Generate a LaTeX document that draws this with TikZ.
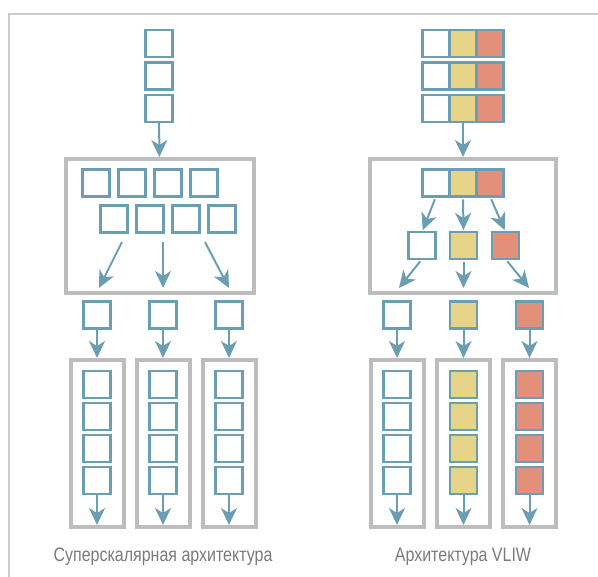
\documentclass[tikz,border=0pt]{standalone}
\usepackage{fontspec}
\setmainfont{Liberation Sans}
\newfontfamily\uzkij[FakeStretch=0.82]{Liberation Sans}
\usetikzlibrary{arrows.meta,positioning}
\definecolor{sinij}{HTML}{6B9EB3}
\definecolor{seryj}{HTML}{BDBDBD}
\definecolor{svetlyj}{HTML}{CCCCCC}
\definecolor{zhel}{HTML}{E7D489}
\definecolor{kras}{HTML}{E2907A}
\definecolor{tekst}{HTML}{7A7A7A}

\newcommand{\stolbec}[3]{%
  \node[kletka, fill=#3] (#1) at (#2,315) {};
  \node[ramka, minimum width=53pt, minimum height=167pt] (#1r) at (#2,443.5) {};
  \node[kletka, fill=#3] (#1a) at (#2,384.5) {};
  \node[kletka, fill=#3, below=5pt of #1a] (#1b) {};
  \node[kletka, fill=#3, below=5pt of #1b] (#1c) {};
  \node[kletka, fill=#3, below=5pt of #1c] (#1d) {};
  \draw[strelka] (#1) -- (#1r);
  \draw[strelka, shorten >=4pt] (#1d) -- (#1r.south);}

\begin{document}
\begin{tikzpicture}[x=1pt, y=-1pt,
  kletka/.style={draw=sinij, line width=2.6pt, minimum size=27pt, inner sep=0pt, outer sep=0pt, fill=white},
  ramka/.style={draw=seryj, line width=4pt, inner sep=0pt},
  strelka/.style={draw=sinij, line width=2pt, -{Stealth[length=17pt, width=16pt, inset=5pt]}},
  podpis/.style={text=tekst, font=\uzkij\fontsize{19.5}{22}\selectfont, anchor=base}]
  \useasboundingbox (0,0) rectangle (598,577);
  \draw[svetlyj, line width=1.5pt] (598,14) -- (9,14) -- (9,577);

  \node[kletka] (p1) at (159,43.5) {};
  \node[kletka, below=5.5pt of p1] (p2) {};
  \node[kletka, below=5.5pt of p2] (p3) {};
  \node[ramka, minimum width=188pt, minimum height=134pt] (blok) at (160,226) {};
  \draw[strelka] (p3) -- (blok);
  \foreach \i/\x in {1/96,2/132,3/168,4/204}
    \node[kletka] (r\i) at (\x,183) {};
  \foreach \i/\x in {1/114,2/150,3/186,4/222}
    \node[kletka] (s\i) at (\x,219) {};
  \coordinate (n1) at (122,242);
  \coordinate (n2) at (163,242);
  \coordinate (n3) at (205,242);
  \coordinate (k1) at (99,288);
  \coordinate (k2) at (163,288);
  \coordinate (k3) at (229,288);
  \foreach \i in {1,2,3}
    \draw[strelka] (n\i) -- (k\i);
  \stolbec{la}{97}{white}
  \stolbec{lb}{163}{white}
  \stolbec{lc}{229}{white}
  \node[podpis] (t1) at (163,562) {Суперскалярная архитектура};

  \foreach \j/\y in {1/43.5,2/76,3/108.5} {
    \node[kletka] (q\j a) at (436,\y) {};
    \node[kletka, fill=zhel] (q\j b) at (463,\y) {};
    \node[kletka, fill=kras] (q\j c) at (490,\y) {};
  }
  \node[ramka, minimum width=186pt, minimum height=134pt] (vliw) at (463,226) {};
  \draw[strelka] (q3b) -- (vliw);
  \node[kletka] (v1) at (436,183) {};
  \node[kletka, fill=zhel] (v2) at (463,183) {};
  \node[kletka, fill=kras] (v3) at (490,183) {};
  \node[kletka] (w1) at (422,245.5) {};
  \node[kletka, fill=zhel] (w2) at (463.5,245.5) {};
  \node[kletka, fill=kras] (w3) at (505.5,245.5) {};
  \coordinate (e1) at (399,288);
  \coordinate (e2) at (463.5,288);
  \coordinate (e3) at (529,288);
  \foreach \i in {1,2,3} {
    \draw[strelka, shorten <=3pt, shorten >=2pt] (v\i.south) -- (w\i.north);
    \draw[strelka, shorten <=3pt] (w\i.south) -- (e\i);
  }
  \stolbec{ra}{397}{white}
  \stolbec{rb}{463.5}{zhel}
  \stolbec{rc}{529.5}{kras}
  \node[podpis] (t2) at (463,562) {Архитектура VLIW};
\end{tikzpicture}
\end{document}
